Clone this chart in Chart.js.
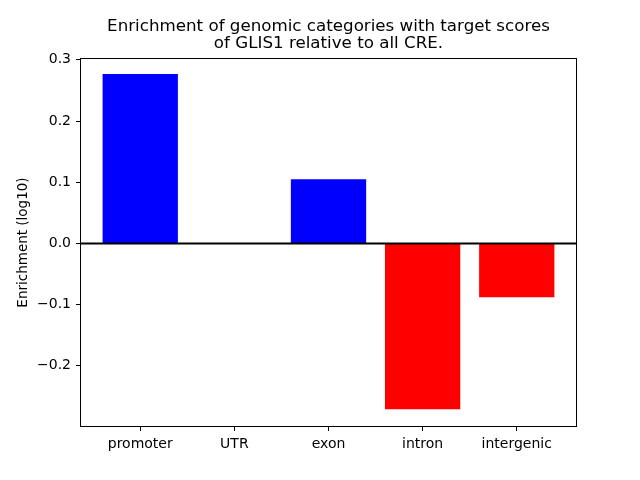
<!DOCTYPE html>
<html>
<head>
<meta charset="utf-8">
<script src="https://cdn.jsdelivr.net/npm/chart.js@4/dist/chart.umd.min.js"></script>
<style>
  body { margin: 0; background: #fff; }
  #wrap { width: 640px; height: 480px; }
</style>
</head>
<body>
<div id="wrap"><canvas id="chart" width="640" height="480"></canvas></div>
<script>
const categories = ['promoter', 'UTR', 'exon', 'intron', 'intergenic'];
const enrichment = [0.277, 0, 0.105, -0.271, -0.088];
const yTicks = [0.3, 0.2, 0.1, 0.0, -0.1, -0.2];
const titleLines = ['Enrichment of genomic categories with target scores', 'of GLIS1 relative to all CRE.'];

const font = 'DejaVu Sans';

// frame, zero line and title drawn on top of the plot
const extras = {
    id: 'extras',
    afterDatasetsDraw(chart) {
        const c = chart.ctx;
        const a = chart.chartArea;
        const y0 = chart.scales.y.getPixelForValue(0);
        c.save();
        c.strokeStyle = '#000';
        c.lineWidth = 2;
        c.beginPath();
        c.moveTo(a.left, y0);
        c.lineTo(a.right, y0);
        c.stroke();
        c.lineWidth = 1;
        c.strokeRect(a.left + 0.5, a.top + 0.5, a.right - a.left - 1, a.bottom - a.top - 1);
        c.fillStyle = '#000';
        c.font = '16.7px "' + font + '"';
        c.textAlign = 'center';
        c.textBaseline = 'middle';
        const cx = (a.left + a.right) / 2;
        c.fillText(titleLines[0], cx, 27);
        c.fillText(titleLines[1], cx, 44);
        c.restore();
    }
};

const ctx = document.getElementById('chart');
new Chart(ctx, {
    type: 'bar',
    data: {
        datasets: [{
            data: enrichment.map((v, i) => ({x: i, y: v})),
            backgroundColor: enrichment.map(v => v >= 0 ? '#0000ff' : '#ff0000'),
            borderWidth: 0,
            categoryPercentage: 1,
            barPercentage: 0.8
        }]
    },
    options: {
        responsive: false,
        animation: false,
        layout: { padding: { top: 58, right: 63, left: 0, bottom: 0 } },
        plugins: { legend: { display: false }, tooltip: { enabled: false } },
        scales: {
            x: {
                type: 'linear',
                min: -0.64,
                max: 4.64,
                offset: false,
                afterBuildTicks: s => { s.ticks = categories.map((c, i) => ({value: i})); },
                afterFit: s => { s.height = 53; },
                ticks: {
                    autoSkip: false,
                    maxRotation: 0,
                    padding: 5,
                    color: '#000',
                    font: { family: font, size: 14 },
                    callback: v => categories[v]
                },
                grid: { offset: false, drawOnChartArea: false, tickLength: 4, color: '#000' },
                border: { display: false }
            },
            y: {
                min: -0.3,
                max: 0.303,
                afterBuildTicks: s => { s.ticks = yTicks.map(v => ({value: v})); },
                afterFit: s => { s.width = 80; },
                ticks: {
                    padding: 5,
                    color: '#000',
                    font: { family: font, size: 14 },
                    callback: v => (v < 0 ? '\u2212' : '') + Math.abs(v).toFixed(1)
                },
                grid: { offset: false, drawOnChartArea: false, tickLength: 4, color: '#000' },
                border: { display: false },
                title: {
                    display: true,
                    text: 'Enrichment (log10)',
                    color: '#000',
                    font: { family: font, size: 13.5 },
                    padding: { top: 15, bottom: 4 }
                }
            }
        }
    },
    plugins: [extras]
});
</script>
</body>
</html>
